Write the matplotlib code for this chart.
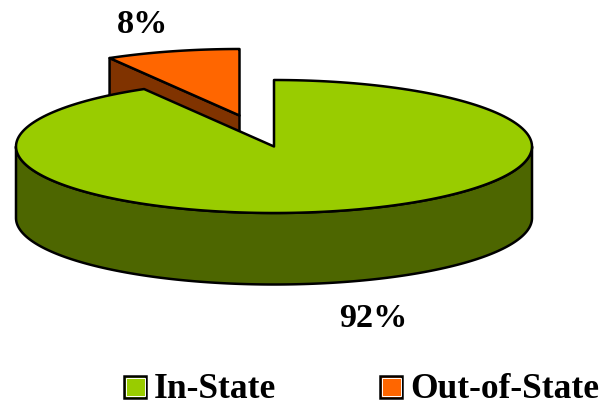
import numpy as np
import matplotlib.pyplot as plt
from matplotlib.patches import Polygon, Rectangle

plt.rcParams['font.family'] = ['Liberation Serif', 'DejaVu Sans']

# data
categories = ['In-State', 'Out-of-State']
values = [91.6, 8.4]
colors = ['#99CC00', '#FF6600']
side_colors = ['#4D6600', '#803300']

# pie geometry, in image pixels
cx, cy = 274, 147.5
rx, ry = 258, 66.5
depth = 71.5
explode = (-34.5, -31)
edge = dict(edgecolor='black', linewidth=1.8, joinstyle='round')


def arc(a0, a1, ox=0, oy=0):
    # angles clockwise from the top of the pie, in degrees
    t = np.radians(np.linspace(a0, a1, 200))
    return np.column_stack([cx + ox + rx * np.sin(t), cy + oy - ry * np.cos(t)])


fig = plt.figure(figsize=(6.04, 4.06), dpi=100)
ax = fig.add_axes([0, 0, 1, 1])
ax.set_xlim(0, 604)
ax.set_ylim(406, 0)
ax.axis('off')

angle = np.array(values) / sum(values) * 360
a_in, a_out = angle

# exploded slice first, the big one covers its lower part
ox, oy = explode
rim = arc(a_in, 360, ox, oy)
apex = np.array([cx + ox, cy + oy])
ax.add_patch(Polygon(np.vstack([[rim[0]], [apex], [apex + [0, depth]], [rim[0] + [0, depth]]]),
                     facecolor=side_colors[1], **edge))
ax.add_patch(Polygon(np.vstack([[apex], rim]), facecolor=colors[1], **edge))

# big slice, only the front wall shows
front = arc(90, 270)
wall = np.vstack([front, front[::-1] + [0, depth]])
ax.add_patch(Polygon(wall, facecolor=side_colors[0], **edge))
top = np.vstack([[[cx, cy]], arc(0, a_in)])
ax.add_patch(Polygon(top, facecolor=colors[0], **edge))

# percent labels
font = dict(fontsize=24.7, fontweight='bold', color='black')
ax.text(373.5, 327, f'{values[0]:.0f}%', ha='center', va='baseline', **font)
ax.text(142.5, 33, f'{values[1]:.0f}%', ha='center', va='baseline', **font)

# legend
font['fontsize'] = 25.5
for name, col, xbox, xtxt in zip(categories, colors, [124, 380], [154, 410.5]):
    ax.add_patch(Rectangle((xbox, 377), 22, 21.5, facecolor=col, edgecolor='black', linewidth=1.8))
    ax.add_patch(Rectangle((xbox + 1.5, 378.5), 19, 18.5, facecolor='none', edgecolor='white', linewidth=0.7))
    ax.text(xtxt, 398, name, ha='left', va='baseline', **font)

plt.savefig('out.png', dpi=100)
